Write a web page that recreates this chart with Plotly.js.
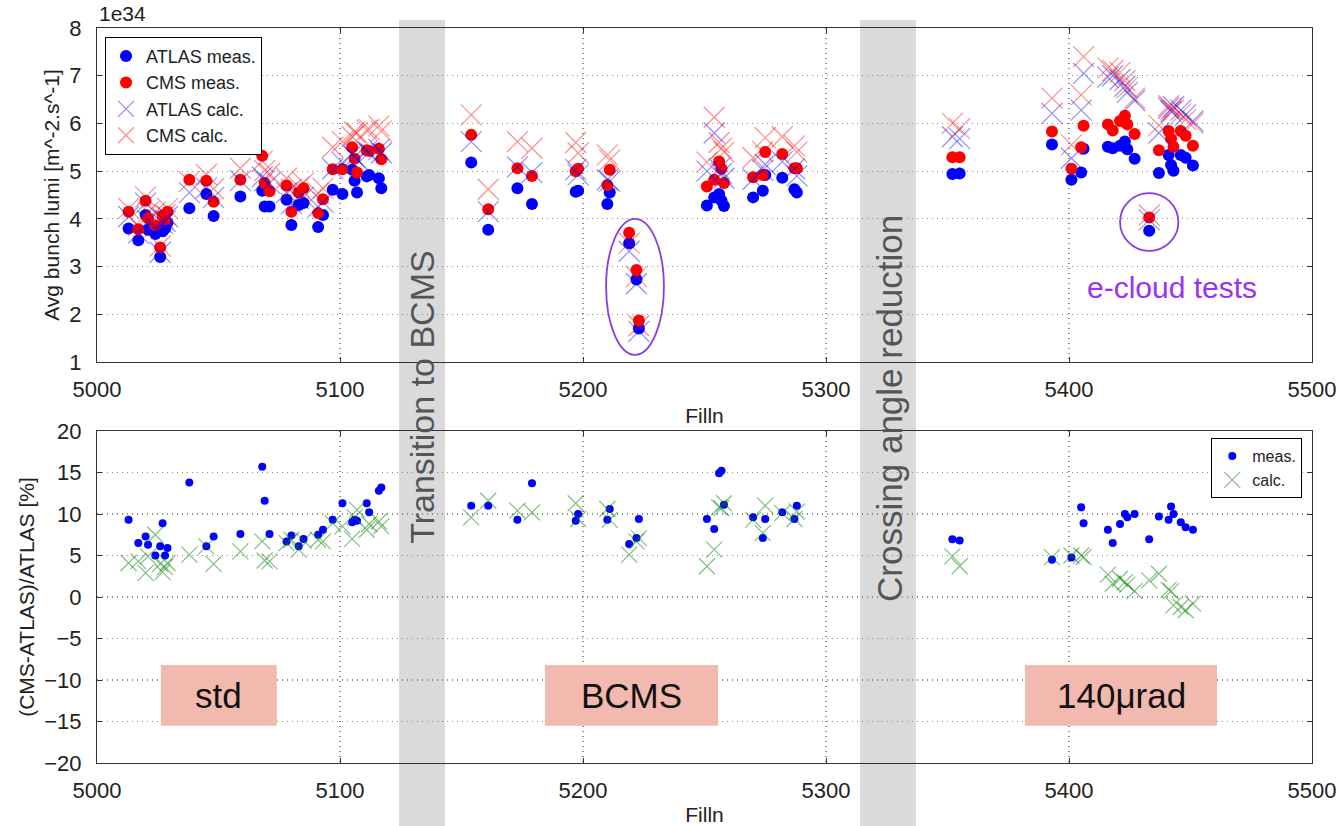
<!DOCTYPE html>
<html>
<head>
<meta charset="utf-8">
<script src="https://cdn.plot.ly/plotly-3.0.1.min.js"></script>
<style>html,body{margin:0;padding:0;background:#fff;}#chart{width:1339px;height:826px;}</style>
</head>
<body>
<div id="chart"></div>
<script>
// Fill numbers
const fills = [5013,5017,5020,5021,5024,5026,5027,5028,5029,5038,5045,5048,5059,5068,5069,5071,5078,5080,5083,5085,5091,5093,5097,5101,5105,5106,5107,5111,5112,5116,5117,
5154,5161,5173,5179,5197,5198,5210,5211,5219,5222,5223,5251,5254,5256,5257,5258,5270,5274,5275,5282,5287,5288,
5352,5355,5393,5401,5405,5406,5416,5418,5421,5423,5424,5427,5433,5437,5441,5442,5443,5446,5448,5451];

// Avg bunch lumi [1e34 m^-2 s^-1]
const atlasMeas = [3.80,3.55,4.08,3.77,3.68,3.20,3.74,3.80,3.92,4.22,4.52,4.06,4.47,4.59,4.26,4.26,4.40,3.87,4.29,4.33,3.83,4.08,4.61,4.52,5.03,4.80,4.55,4.89,4.92,4.85,4.64,
5.18,3.77,4.64,4.31,4.57,4.59,4.31,4.55,3.49,2.73,1.70,4.28,4.45,4.52,4.38,4.27,4.45,4.59,4.92,4.86,4.62,4.55,
4.94,4.95,5.56,4.82,4.97,5.47,5.51,5.48,5.53,5.62,5.46,5.26,3.75,4.96,5.34,5.13,5.01,5.34,5.28,5.12];

const cmsMeas = [4.15,3.78,4.38,4.01,3.86,3.40,4.07,3.99,4.15,4.82,4.80,4.36,4.82,5.32,4.75,4.58,4.70,4.15,4.55,4.64,4.12,4.41,5.04,5.04,5.50,5.26,4.97,5.44,5.42,5.47,5.25,
5.76,4.20,5.06,4.90,5.00,5.05,4.71,5.03,3.71,2.93,1.87,4.68,4.82,5.20,5.05,4.75,4.87,4.92,5.40,5.36,5.06,5.06,
5.29,5.29,5.83,5.05,5.50,5.95,5.98,5.85,6.05,6.16,5.98,5.78,4.03,5.44,5.84,5.68,5.51,5.84,5.74,5.53];

const atlasCalc = [4.05,3.70,4.33,3.95,3.85,3.30,3.90,3.95,4.05,4.55,4.65,4.45,4.80,4.88,4.80,4.75,4.55,4.32,4.42,4.45,4.25,4.35,5.05,5.18,5.35,5.30,5.25,5.42,5.40,5.45,5.38,
5.62,4.15,5.09,4.97,5.03,4.92,4.82,4.79,3.32,2.64,1.64,5.00,5.80,5.05,4.95,4.85,4.83,5.02,5.14,5.20,5.05,4.90,
5.72,5.68,6.21,5.27,6.28,7.05,6.97,7.00,6.92,6.78,6.65,6.48,3.98,5.80,6.32,6.25,6.35,6.28,6.18,6.05];

const cmsCalc = [4.22,3.86,4.46,4.14,4.14,3.43,4.02,4.09,4.22,4.78,4.93,4.63,5.06,5.21,5.01,4.95,4.85,4.62,4.67,4.75,4.54,4.64,5.50,5.62,5.72,5.82,5.80,5.86,5.87,5.95,5.84,
6.18,4.62,5.62,5.48,5.60,5.38,5.34,5.23,3.49,2.79,1.76,5.19,6.13,5.60,5.48,5.40,5.28,5.41,5.70,5.72,5.53,5.40,
6.00,5.89,6.53,5.55,6.60,7.40,7.16,7.11,7.07,6.90,6.75,6.53,4.08,5.96,6.37,6.30,6.28,6.20,6.08,6.00];

// (CMS-ATLAS)/ATLAS [%]
const ratioMeas = [9.3,6.5,7.3,6.3,5.0,6.1,8.9,5.0,5.9,13.8,6.1,7.3,7.6,15.7,11.6,7.6,6.7,7.4,6.1,7.0,7.5,8.1,9.3,11.3,9.0,9.3,9.2,11.3,10.2,12.8,13.2,
11.0,11.0,9.3,13.7,9.2,10.0,9.3,10.6,6.4,7.1,9.4,9.4,8.2,14.9,15.2,11.1,9.6,7.1,9.4,10.2,9.4,11.0,
6.95,6.8,4.5,4.75,10.8,8.9,8.1,6.5,8.8,10.0,9.6,10.0,6.95,9.7,9.3,10.9,10.0,9.0,8.4,8.1];

const ratioCalc = [4.1,4.3,2.9,4.9,7.5,4.0,3.0,3.6,4.1,5.1,6.1,4.0,5.5,6.7,4.4,4.3,6.5,6.9,5.7,6.8,6.9,6.7,8.9,8.5,7.0,9.6,10.5,8.1,8.8,9.1,8.5,
9.6,11.6,10.4,10.2,11.3,9.4,10.6,9.3,5.1,6.7,7.1,3.7,5.7,10.8,10.7,11.3,9.3,7.7,11.0,10.1,9.4,10.3,
4.9,3.7,4.8,5.0,5.0,4.8,2.7,1.6,2.2,1.8,1.5,0.7,2.0,2.8,0.85,0.7,-1.0,-1.2,-1.6,-0.8];

const xTicks = [5000,5100,5200,5300,5400,5500];
const topYTicks = [1,2,3,4,5,6,7,8];
const botYTicks = [-20,-15,-10,-5,0,5,10,15,20];

const FONT = 'Liberation Sans, Arial, sans-serif';

const traces = [
  {x: fills, y: atlasMeas, name: 'ATLAS meas.', type: 'scatter', mode: 'markers', xaxis: 'x', yaxis: 'y',
   marker: {color: '#0000ff', size: 12, line: {width: 0}}, legend: 'legend'},
  {x: fills, y: cmsMeas, name: 'CMS meas.', type: 'scatter', mode: 'markers', xaxis: 'x', yaxis: 'y',
   marker: {color: '#ff0000', size: 12, line: {width: 0}}, legend: 'legend'},
  {x: fills, y: atlasCalc, name: 'ATLAS calc.', type: 'scatter', mode: 'markers', xaxis: 'x', yaxis: 'y',
   marker: {symbol: 'x-thin-open', size: 21, color: 'rgba(0,0,255,0.45)', line: {color: 'rgba(0,0,255,0.45)', width: 1.2}}, legend: 'legend'},
  {x: fills, y: cmsCalc, name: 'CMS calc.', type: 'scatter', mode: 'markers', xaxis: 'x', yaxis: 'y',
   marker: {symbol: 'x-thin-open', size: 21, color: 'rgba(255,0,0,0.45)', line: {color: 'rgba(255,0,0,0.45)', width: 1.2}}, legend: 'legend'},
  {x: fills, y: ratioMeas, name: 'meas.', type: 'scatter', mode: 'markers', xaxis: 'x2', yaxis: 'y2',
   marker: {color: '#0000ff', size: 8, line: {width: 0}}, legend: 'legend2'},
  {x: fills, y: ratioCalc, name: 'calc.', type: 'scatter', mode: 'markers', xaxis: 'x2', yaxis: 'y2',
   marker: {symbol: 'x-thin-open', size: 16, color: 'rgba(0,128,0,0.5)', line: {color: 'rgba(0,128,0,0.5)', width: 1.2}}, legend: 'legend2'}
];

const axisCommon = {
  showline: true, linecolor: '#333', linewidth: 1, mirror: 'ticks',
  ticks: 'inside', ticklen: 5, tickcolor: '#333',
  showgrid: true, gridcolor: '#8c8c8c', griddash: '1px,4px', gridwidth: 1.2,
  zeroline: false, tickfont: {family: FONT, size: 22, color: '#222'}
};

const layout = {
  width: 1339, height: 826,
  margin: {l: 97, r: 27, t: 28, b: 63},
  paper_bgcolor: '#fff', plot_bgcolor: '#fff',
  font: {family: FONT, color: '#222'},
  showlegend: true,
  xaxis: Object.assign({}, axisCommon, {domain: [0, 1], anchor: 'y', range: [5000, 5500], tickvals: xTicks,
    ticklabelstandoff: 8,
    title: {text: 'Filln', font: {family: FONT, size: 21, color: '#222'}, standoff: 6}}),
  yaxis: Object.assign({}, axisCommon, {domain: [0.5456, 1], anchor: 'x', range: [1, 8], tickvals: topYTicks,
    ticklabelstandoff: 10,
    title: {text: 'Avg bunch lumi [m^-2.s^-1]', font: {family: FONT, size: 21, color: '#222'}, standoff: 3}}),
  xaxis2: Object.assign({}, axisCommon, {domain: [0, 1], anchor: 'y2', range: [5000, 5500], tickvals: xTicks,
    ticklabelstandoff: 8,
    title: {text: 'Filln', font: {family: FONT, size: 21, color: '#222'}, standoff: 6}}),
  yaxis2: Object.assign({}, axisCommon, {domain: [0, 0.4517], anchor: 'x2', range: [-20, 20], tickvals: botYTicks,
    ticklabelstandoff: 10,
    title: {text: '(CMS-ATLAS)/ATLAS [%]', font: {family: FONT, size: 21, color: '#222'}, standoff: 3}}),
  legend: {x: 0.0066, y: 0.988, xanchor: 'left', yanchor: 'top', bgcolor: '#fff', bordercolor: '#000', borderwidth: 1,
    font: {family: FONT, size: 18, color: '#222'}, tracegroupgap: 0},
  legend2: {x: 0.992, y: 0.442, xanchor: 'right', yanchor: 'top', bgcolor: '#fff', bordercolor: '#000', borderwidth: 1,
    font: {family: FONT, size: 16, color: '#222'}, tracegroupgap: 0},
  shapes: [
    {type: 'rect', xref: 'x', yref: 'paper', x0: 5124.3, x1: 5143.2, y0: -0.0857, y1: 1.011, fillcolor: '#dadada', line: {width: 0}, layer: 'below'},
    {type: 'rect', xref: 'x', yref: 'paper', x0: 5314, x1: 5337, y0: -0.0857, y1: 1.011, fillcolor: '#dadada', line: {width: 0}, layer: 'below'},
    {type: 'rect', xref: 'x2', yref: 'y2', x0: 5026.3, x1: 5074, y0: -15.5, y1: -8.2, fillcolor: '#f2b9ae', line: {width: 0}, layer: 'above'},
    {type: 'rect', xref: 'x2', yref: 'y2', x0: 5184.4, x1: 5255.6, y0: -15.5, y1: -8.2, fillcolor: '#f2b9ae', line: {width: 0}, layer: 'above'},
    {type: 'rect', xref: 'x2', yref: 'y2', x0: 5381.9, x1: 5460.9, y0: -15.5, y1: -8.2, fillcolor: '#f2b9ae', line: {width: 0}, layer: 'above'},
    {type: 'circle', xref: 'x', yref: 'y', x0: 5209.5, x1: 5233.3, y0: 1.15, y1: 4.0, line: {color: '#8b3be6', width: 1.8}},
    {type: 'circle', xref: 'x', yref: 'y', x0: 5421, x1: 5445, y0: 3.33, y1: 4.54, line: {color: '#8b3be6', width: 1.8}}
  ],
  annotations: [
    {text: '1e34', xref: 'paper', yref: 'paper', x: 0, y: 1.0204, xanchor: 'left', yanchor: 'middle', showarrow: false,
     font: {family: FONT, size: 21, color: '#222'}},
    {text: 'Transition to BCMS', xref: 'x', yref: 'paper', x: 5133.7, y: 0.498, textangle: -90, showarrow: false,
     font: {family: FONT, size: 34, color: '#555'}},
    {text: 'Crossing angle reduction', xref: 'x', yref: 'paper', x: 5326.3, y: 0.483, textangle: -90, showarrow: false,
     font: {family: FONT, size: 35, color: '#555'}},
    {text: 'std', xref: 'x2', yref: 'y2', x: 5050.2, y: -11.85, showarrow: false, font: {family: FONT, size: 35, color: '#111'}},
    {text: 'BCMS', xref: 'x2', yref: 'y2', x: 5220, y: -11.85, showarrow: false, font: {family: FONT, size: 35, color: '#111'}},
    {text: '140μrad', xref: 'x2', yref: 'y2', x: 5421.4, y: -11.85, showarrow: false, font: {family: FONT, size: 35, color: '#111'}},
    {text: 'e-cloud tests', xref: 'x', yref: 'y', x: 5442.4, y: 2.57, showarrow: false, font: {family: FONT, size: 30, color: '#9b32f0'}}
  ]
};

Plotly.newPlot('chart', traces, layout, {displayModeBar: false, staticPlot: true});
</script>
</body>
</html>
